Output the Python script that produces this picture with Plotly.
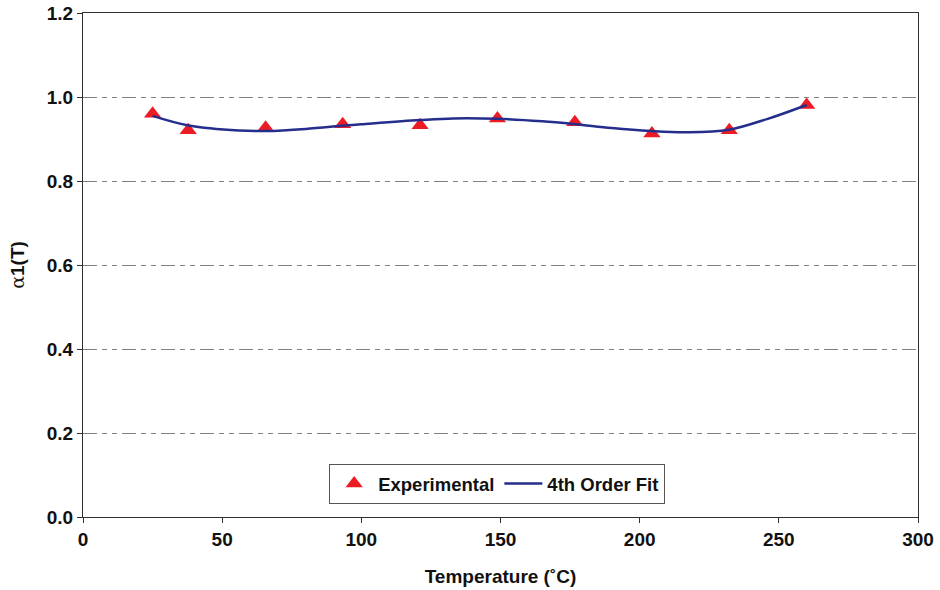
import plotly.graph_objects as go

# Experimental data
temp_exp = [25, 37.8, 65.6, 93.3, 121.1, 148.9, 176.7, 204.4, 232.2, 260]
alpha_exp = [0.960, 0.921, 0.927, 0.935, 0.933, 0.949, 0.940, 0.913, 0.921, 0.981]

# 4th order fit curve
temp_fit = [25, 38, 56, 66, 80, 94, 100, 121, 133, 149, 165, 177, 190, 204, 217, 232, 246, 260]
alpha_fit = [0.955, 0.932, 0.920, 0.919, 0.924, 0.932, 0.935, 0.945, 0.949, 0.948,
             0.942, 0.935, 0.926, 0.919, 0.916, 0.922, 0.948, 0.981]

x_ticks = [0, 50, 100, 150, 200, 250, 300]
y_ticks = [0.0, 0.2, 0.4, 0.6, 0.8, 1.0, 1.2]

FONT = "Liberation Sans, Arial, sans-serif"

fig = go.Figure()
fig.add_trace(go.Scatter(
    x=temp_exp, y=alpha_exp, mode="markers", name="Experimental",
    marker=dict(symbol="triangle-up", size=15, color="#ED1C24", line=dict(width=0)),
))
fig.add_trace(go.Scatter(
    x=temp_fit, y=alpha_fit, mode="lines", name="4th Order Fit",
    line=dict(color="#252E8C", width=2.5, shape="spline", smoothing=1.0),
))

axis_common = dict(
    showline=True, linecolor="#303030", linewidth=1.2, mirror=True,
    ticks="outside", ticklen=5, tickcolor="#303030", tickwidth=1,
    tickfont=dict(family=FONT, size=19, color="#111111", weight="bold"),
    zeroline=False, automargin=False,
)

fig.update_layout(
    width=940, height=590,
    margin=dict(l=83, r=22, t=13, b=73),
    paper_bgcolor="white", plot_bgcolor="white",
    showlegend=True,
    legend=dict(
        orientation="h", x=0.496, xanchor="center", y=0.026, yanchor="bottom",
        bgcolor="white", bordercolor="#555555", borderwidth=1,
        font=dict(family=FONT, size=18.5, color="#111111", weight="bold"),
        itemwidth=38, tracegroupgap=0,
    ),
    xaxis=dict(
        range=[0, 300], tickvals=x_ticks, showgrid=False,
        title=dict(text="Temperature (˚C)", standoff=20,
                   font=dict(family=FONT, size=19, color="#111111", weight="bold")),
        **axis_common,
    ),
    yaxis=dict(
        range=[0, 1.2], tickvals=y_ticks, tickformat=".1f",
        showgrid=True, gridcolor="#808080", gridwidth=1,
        griddash="14px,5px,5px,5px,5px,5px",
        title=dict(text="<span style='font-family:DejaVu Serif;font-weight:normal'>α</span>1(T)",
                   standoff=17,
                   font=dict(family=FONT, size=19, color="#111111", weight="bold")),
        **axis_common,
    ),
)

fig.write_html("out.html")
